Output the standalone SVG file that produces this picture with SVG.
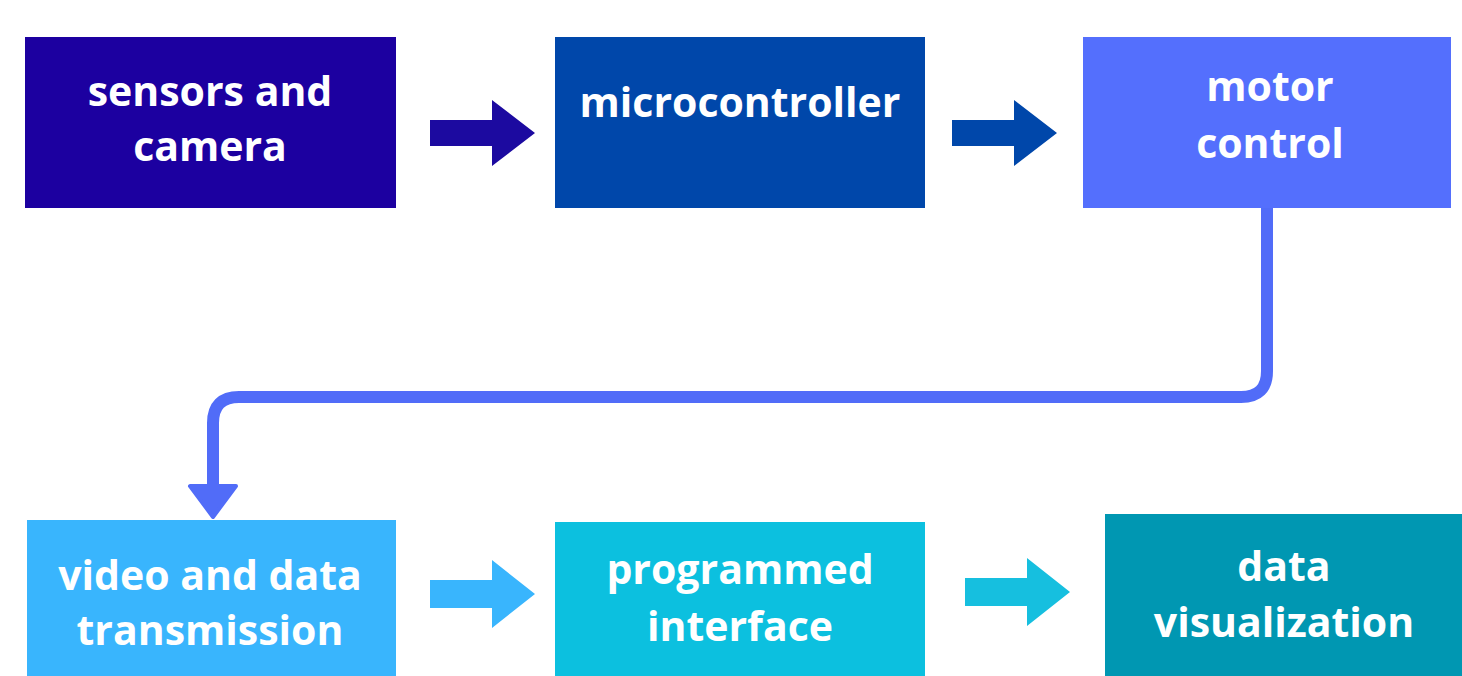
<svg xmlns="http://www.w3.org/2000/svg" width="1462" height="676" viewBox="0 0 1462 676">
<style>
.lbl{font-family:"Open Sans","Liberation Sans",sans-serif;font-weight:700;font-size:41px;fill:#ffffff;text-anchor:middle}
</style>
<rect x="0" y="0" width="1462" height="676" fill="#ffffff"/>
<g id="node-sensors"><rect x="25" y="37" width="371" height="171" fill="#1c00a0"/><text class="lbl" x="210" y="106">sensors and</text><text class="lbl" x="210" y="161">camera</text></g>
<g id="node-micro"><rect x="555" y="37" width="370" height="171" fill="#0047aa"/><text class="lbl" x="740" y="117">microcontroller</text></g>
<g id="node-motor"><rect x="1083" y="37" width="368" height="171" fill="#546ffd"/><text class="lbl" x="1270" y="101">motor</text><text class="lbl" x="1270" y="158">control</text></g>
<g id="node-video"><rect x="27" y="520" width="369" height="160" fill="#39b5fd"/><text class="lbl" x="210" y="590">video and data</text><text class="lbl" x="210" y="645">transmission</text></g>
<g id="node-prog"><rect x="555" y="522" width="370" height="158" fill="#0cc0df"/><text class="lbl" x="740" y="584">programmed</text><text class="lbl" x="740" y="641">interface</text></g>
<g id="node-dataviz"><rect x="1105" y="514" width="360" height="166" fill="#0097b2"/><text class="lbl" x="1284" y="581">data</text><text class="lbl" x="1284" y="637">visualization</text></g>
<g id="connectors">
<polygon points="430,120 492,120 492,100 535,133 492,166 492,146 430,146" fill="#1c0aa0"/>
<polygon points="952,120 1014,120 1014,100 1057,133 1014,166 1014,146 952,146" fill="#0047aa"/>
<path d="M1267,208 V371 Q1267,397 1241,397 H239 Q213,397 213,423 V488" fill="none" stroke="#516cf8" stroke-width="12"/>
<polygon points="190,486 236,486 213,517" fill="#516cf8" stroke="#516cf8" stroke-width="4" stroke-linejoin="round"/>
<polygon points="430,580 492,580 492,560 535,594 492,628 492,608 430,608" fill="#39b5fd"/>
<polygon points="965,578 1027,578 1027,558 1070,592 1027,626 1027,606 965,606" fill="#16bfdf"/>
</g>
</svg>
